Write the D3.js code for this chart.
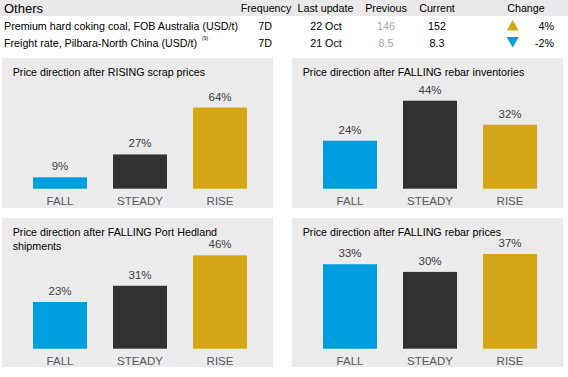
<!DOCTYPE html>
<html><head><meta charset="utf-8">
<script src="https://cdn.jsdelivr.net/npm/d3@7"></script>
<style>
html,body{margin:0;padding:0;background:#fff;}
svg{display:block;font-family:Arial,"Liberation Sans",sans-serif;}
</style></head>
<body><svg id="c" width="568" height="377"></svg>
<script>
// ---- table data ----
const tableItems = ["Premium hard coking coal, FOB Australia (USD/t)", "Freight rate, Pilbara-North China (USD/t)"];
const tableNotes = ["", "(9)"];
const frequency = ["7D", "7D"];
const lastUpdate = ["22 Oct", "21 Oct"];
const previous = ["146", "8.5"];
const current = ["152", "8.3"];
const changePct = [4, -2];

// ---- chart data ----
const categories = ["FALL", "STEADY", "RISE"];
const chartTitles = [
  ["Price direction after RISING scrap prices"],
  ["Price direction after FALLING rebar inventories"],
  ["Price direction after FALLING Port Hedland", "shipments"],
  ["Price direction after FALLING rebar prices"]
];
const risingScrap = [9, 27, 64];
const fallingRebarInventories = [24, 44, 32];
const fallingPortHedland = [23, 31, 46];
const fallingRebarPrices = [33, 30, 37];
const axisMax = [80, 50, 50, 40];

const colors = {FALL: "#009fdf", STEADY: "#323232", RISE: "#d5a717"};

const svg = d3.select("#c");
const FS = 10.7;

// ---- header table ----
svg.append("rect").attr("x", 0).attr("y", 0).attr("width", 568).attr("height", 16).attr("fill", "#e9e9e9");
svg.append("text").attr("x", 4).attr("y", 13).attr("font-size", 13).attr("fill", "#000").text("Others");
const heads = [["Frequency", 266], ["Last update", 325.5], ["Previous", 386], ["Current", 437], ["Change", 526]];
heads.forEach(h => svg.append("text").attr("x", h[1]).attr("y", 12).attr("text-anchor", "middle")
  .attr("font-size", FS).attr("fill", "#000").text(h[0]));

const rowY = [30, 47];
tableItems.forEach((t, i) => {
  const y = rowY[i];
  const tx = svg.append("text").attr("x", 4).attr("y", y).attr("font-size", FS).attr("fill", "#000").text(t);
  if (tableNotes[i]) {
    const w = tx.node().getComputedTextLength();
    svg.append("text").attr("x", 4 + w + 5).attr("y", y - 7).attr("font-size", 5).attr("fill", "#000").text(tableNotes[i]);
  }
  svg.append("text").attr("x", 272).attr("y", y).attr("text-anchor", "end").attr("font-size", FS).text(frequency[i]);
  svg.append("text").attr("x", 326).attr("y", y).attr("text-anchor", "middle").attr("font-size", FS).text(lastUpdate[i]);
  svg.append("text").attr("x", 386).attr("y", y).attr("text-anchor", "middle").attr("font-size", FS).attr("fill", "#a6a6a6").text(previous[i]);
  svg.append("text").attr("x", 437).attr("y", y).attr("text-anchor", "middle").attr("font-size", FS).text(current[i]);
  const up = changePct[i] >= 0;
  const cx = 512.7, top = y - 10;
  const pts = up ? [[cx - 6, top + 10.5], [cx + 6, top + 10.5], [cx, top]] : [[cx - 6, top], [cx + 6, top], [cx, top + 10.5]];
  svg.append("path").attr("d", d3.line()(pts) + "Z").attr("fill", up ? colors.RISE : colors.FALL);
  svg.append("text").attr("x", 554).attr("y", y).attr("text-anchor", "end").attr("font-size", FS).attr("fill", "#000")
    .text(changePct[i] + "%");
});

// ---- panels ----
const panels = [
  {x: 2, y: 58, w: 271, h: 150, base: 188.7, values: risingScrap},
  {x: 292, y: 58, w: 271, h: 150, base: 188.7, values: fallingRebarInventories},
  {x: 2, y: 218, w: 271, h: 149, base: 348.7, values: fallingPortHedland},
  {x: 292, y: 218, w: 271, h: 149, base: 348.7, values: fallingRebarPrices}
];
const plotH = [101.5, 100, 101.5, 102.4];

panels.forEach((p, i) => {
  const g = svg.append("g");
  g.append("rect").attr("x", p.x).attr("y", p.y).attr("width", p.w).attr("height", p.h).attr("fill", "#ebebeb");
  chartTitles[i].forEach((line, j) => {
    g.append("text").attr("x", p.x + 10.7).attr("y", p.y + 18 + j * 14).attr("font-size", FS).attr("fill", "#000").text(line);
  });
  const x = d3.scaleBand().domain(categories).range([p.x + 18, p.x + 258]).paddingInner(0.325).paddingOuter(0.1625);
  const y = d3.scaleLinear().domain([0, axisMax[i]]).range([p.base, p.base - plotH[i]]);
  const data = categories.map((c, k) => ({c, v: p.values[k]}));
  g.selectAll(".bar").data(data).enter().append("rect")
    .attr("x", d => x(d.c)).attr("width", x.bandwidth())
    .attr("y", d => y(d.v)).attr("height", d => y(0) - y(d.v))
    .attr("fill", d => colors[d.c]);
  g.selectAll(".val").data(data).enter().append("text")
    .attr("x", d => x(d.c) + x.bandwidth() / 2).attr("y", d => y(d.v) - 7)
    .attr("text-anchor", "middle").attr("font-size", 11.5).attr("fill", "#404040")
    .text(d => d.v + "%");
  const ax = d3.axisBottom(x).tickSize(0).tickPadding(0);
  const axg = g.append("g").attr("transform", `translate(0,${p.base})`).call(ax);
  axg.select(".domain").remove();
  axg.selectAll("text").attr("dy", null).attr("y", 16.8).attr("font-size", 11.5).attr("fill", "#595959")
    .attr("font-family", 'Arial,"Liberation Sans",sans-serif');
});
</script></body></html>
